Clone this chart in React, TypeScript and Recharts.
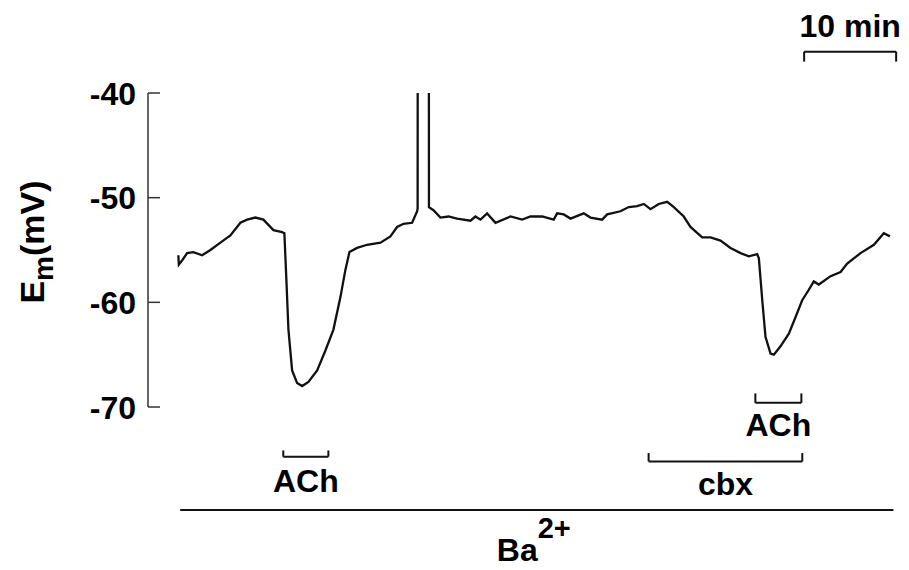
import React from 'react';
import { LineChart, Line, XAxis, YAxis, ReferenceLine } from 'recharts';

// time (min) and membrane potential (mV)
const times = [
  0, 0.05, 0.4, 0.95, 1.63, 2.58, 3.48, 4.57, 5.65, 6.74, 7.47, 8.37, 9.24, 10.33, 11.27, 11.52,
  11.74, 11.96, 12.36, 12.9, 13.45, 14.13, 15.08, 15.98, 16.85, 17.61, 18.15, 18.59, 19.42, 20.51,
  21.96, 23.04, 23.77, 24.46, 25.4, 25.95, 26.0, 26.02, 27.21, 27.23, 27.72, 28.48, 29.35, 30.29,
  31.74, 32.28, 32.83, 33.55, 34.46, 36.09, 37.36, 38.26, 39.53, 40.79, 41.16, 41.88, 42.61, 44.05,
  44.78, 46.05, 46.6, 48.04, 48.95, 49.86, 50.58, 51.3, 52.2, 53.12, 53.84, 54.92, 55.65, 56.92,
  57.83, 58.91, 60.0, 61.09, 61.99, 62.9, 63.08, 63.45, 63.8, 64.35, 64.71, 65.43, 66.34, 67.07,
  67.79, 68.51, 69.05, 69.6, 70.87, 71.96, 72.68, 74.13, 75.58, 76.66, 77.32,
];
const potentials = [
  -55.5, -56.4, -56.0, -55.3, -55.2, -55.5, -55.0, -54.3, -53.6, -52.4, -52.1, -51.9, -52.1, -53.1, -53.3, -53.4,
  -57.9, -62.6, -66.5, -67.7, -68.0, -67.6, -66.5, -64.6, -62.6, -59.5, -56.9, -55.2, -54.8, -54.5,
  -54.3, -53.7, -52.8, -52.5, -52.4, -51.3, -51.0, -20, -20, -50.9, -51.2, -51.9, -51.8, -52.0,
  -52.2, -51.8, -52.1, -51.5, -52.4, -51.8, -52.1, -51.8, -51.8, -52.1, -51.5, -51.6, -52.0, -51.5,
  -51.9, -52.1, -51.6, -51.3, -50.9, -50.8, -50.6, -51.1, -50.6, -50.4, -50.9, -51.8, -52.8, -53.8,
  -53.8, -54.1, -54.8, -55.3, -55.6, -55.4, -55.8, -59.8, -63.3, -64.9, -65.0, -64.2, -63.0, -61.4,
  -59.8, -58.8, -58.0, -58.3, -57.5, -57.1, -56.3, -55.3, -54.5, -53.4, -53.7,
];
const yTicks = [-40, -50, -60, -70];

// drug application periods (min)
const achPeriods = [[11.4, 16.3], [62.7, 67.7]];
const cbxPeriod = [51.1, 67.8];
const baPeriod = [0.2, 77.7];
const scaleBar = [68.0, 78.0];

const data = times.map((t, i) => ({ t, v: potentials[i] }));

const FONT = '"Liberation Sans", Arial, sans-serif';
const INK = '#111';

const textStyle = { fill: '#000', fontSize: 32, fontWeight: 'bold', fontFamily: FONT };

const YTick = (props: any) => {
  const { x, y, payload } = props;
  return (
    <g>
      <text x={x} y={y} dy="0.36em" textAnchor="end" fontSize={32} fontWeight="bold" fontFamily={FONT} fill="#000">
        {payload.value}
      </text>
      <line x1={x + 12} x2={x + 24} y1={y} y2={y} stroke="#333" strokeWidth={1.5} />
    </g>
  );
};

const YLabel = (props: any) => {
  const { viewBox } = props;
  const cx = viewBox.x + 44;
  const cy = viewBox.y + viewBox.height / 2 - 8;
  return (
    <text
      x={cx}
      y={cy}
      transform={`rotate(-90 ${cx} ${cy})`}
      textAnchor="middle"
      fontSize={34}
      fontWeight="bold"
      fontFamily={FONT}
      fill="#000"
    >
      E<tspan fontSize={28} dy={9}>m</tspan>
      <tspan dy={-9}>(mV)</tspan>
    </text>
  );
};

const BaLabel = (props: any) => {
  const { viewBox } = props;
  const cx = viewBox.x + viewBox.width / 2 - 3;
  const y = viewBox.y + 51;
  return (
    <text x={cx} y={y} textAnchor="middle" fontSize={32} fontWeight="bold" fontFamily={FONT} fill="#000">
      Ba<tspan fontSize={29} dy={-23}>2+</tspan>
    </text>
  );
};

// horizontal bar with end ticks; tick > 0 points up, tick < 0 points down
const bracket = (key: string, x1: number, x2: number, y: number, tick: number, label: any) => [
  <ReferenceLine
    key={key + '-h'}
    segment={[{ x: x1, y }, { x: x2, y }]}
    stroke={INK}
    strokeWidth={2}
    ifOverflow="visible"
    label={label}
  />,
  <ReferenceLine key={key + '-l'} segment={[{ x: x1, y }, { x: x1, y: y + tick }]} stroke={INK} strokeWidth={2} ifOverflow="visible" />,
  <ReferenceLine key={key + '-r'} segment={[{ x: x2, y }, { x: x2, y: y + tick }]} stroke={INK} strokeWidth={2} ifOverflow="visible" />,
];

export default function App() {
  return (
    <div style={{ position: 'absolute', left: 0, top: 0, width: 909, height: 570, background: '#fff' }}>
      <LineChart width={909} height={570} data={data} margin={{ top: 93, right: 11, bottom: 163, left: 0 }}>
        <XAxis dataKey="t" type="number" domain={[-3.3, 78.2]} allowDataOverflow hide />
        <YAxis
          type="number"
          domain={[-70, -40]}
          ticks={yTicks}
          allowDataOverflow
          width={148}
          axisLine={{ stroke: '#333', strokeWidth: 1.5 }}
          tickLine={false}
          tickSize={0}
          tickMargin={12}
          tick={<YTick />}
          label={{ content: <YLabel /> }}
        />
        <Line
          type="linear"
          dataKey="v"
          stroke={INK}
          strokeWidth={2.3}
          dot={false}
          isAnimationActive={false}
        />
        {bracket('ach1', achPeriods[0][0], achPeriods[0][1], -74.75, 0.6, { value: 'ACh', position: 'bottom', offset: 13, ...textStyle })}
        {bracket('ach2', achPeriods[1][0], achPeriods[1][1], -69.6, 0.9, { value: 'ACh', position: 'bottom', offset: 10, ...textStyle })}
        {bracket('cbx', cbxPeriod[0], cbxPeriod[1], -75.2, 0.8, { value: 'cbx', position: 'bottom', offset: 11, ...textStyle })}
        <ReferenceLine
          segment={[{ x: baPeriod[0], y: -79.84 }, { x: baPeriod[1], y: -79.84 }]}
          stroke={INK}
          strokeWidth={2}
          ifOverflow="visible"
          label={{ content: <BaLabel /> }}
        />
        {bracket('scale', scaleBar[0], scaleBar[1], -36.05, -0.95, { value: '10 min', position: 'top', offset: 15, ...textStyle })}
      </LineChart>
    </div>
  );
}
